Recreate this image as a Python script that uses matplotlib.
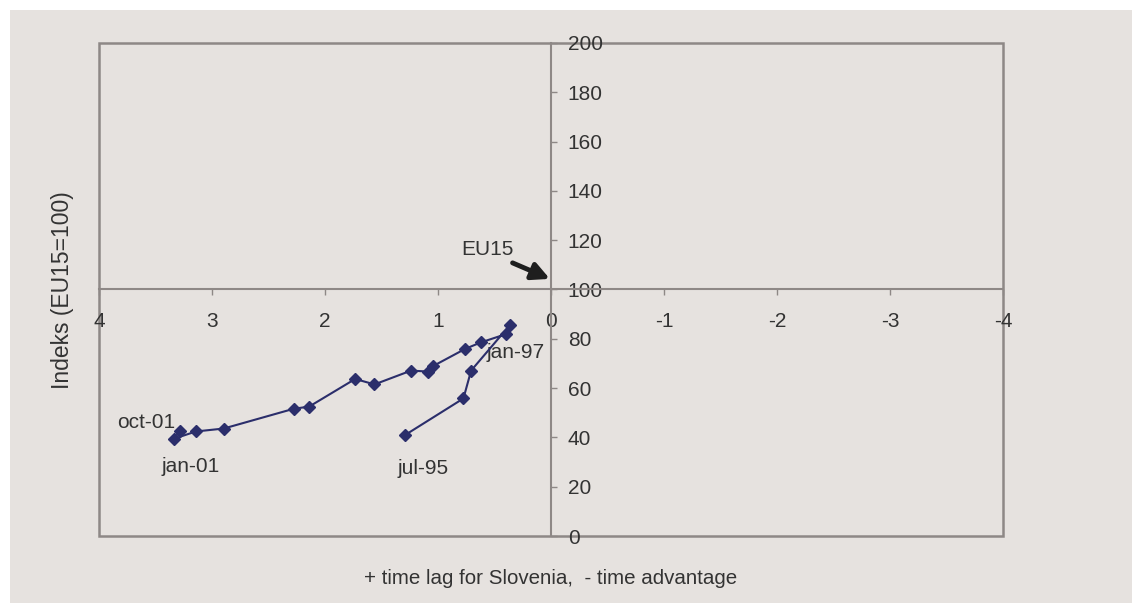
"""Slovenia vs EU15: index level against time lag / advantage."""

import matplotlib
matplotlib.use("Agg")
import matplotlib.pyplot as plt
from matplotlib.patches import Rectangle

BG = "#E6E2DF"
FRAME = "#8E8886"
TEXT = "#333333"
SERIES = "#2B2E6B"

# time lag in years (+ lag, - advantage) and index level (EU15 = 100)
lag_years = [1.29, 0.775, 0.707, 0.363, 0.398, 0.623, 0.760, 1.041, 1.085,
             1.238, 1.562, 1.733, 2.140, 2.278, 2.896, 3.143, 3.340, 3.280]
index_level = [41.0, 55.8, 67.1, 85.6, 81.9, 78.5, 75.9, 69.0, 66.7,
               67.1, 61.5, 63.7, 52.5, 51.6, 43.6, 42.4, 39.4, 42.6]

# period labels and where they sit
period_labels = ["jul-95", "jan-97", "jan-01", "oct-01"]
label_x = [1.136, 0.314, 3.19, 3.58]
label_y = [27.2, 74.6, 28.2, 46.0]

x_ticks = [4, 3, 2, 1, 0, -1, -2, -3, -4]
y_ticks = list(range(0, 201, 20))

plt.rcParams.update({
    "font.family": ["Liberation Sans", "DejaVu Sans"],
    "font.size": 15,
    "axes.unicode_minus": False,
    "text.color": TEXT,
})

fig = plt.figure(figsize=(11.32, 6.03), dpi=100)
fig.patch.set_facecolor("white")
fig.patches.append(Rectangle((10 / 1132, 0), 1, 1 - 10 / 603,
                             transform=fig.transFigure, facecolor=BG,
                             edgecolor="none", zorder=-10))

ax = fig.add_axes([99 / 1132, 1 - 536 / 603, 904 / 1132, 493 / 603])
ax.set_facecolor(BG)
ax.set_xlim(4, -4)
ax.set_ylim(0, 200)

# axes cross at (0, 100); outer frame drawn separately
ax.spines["top"].set_visible(False)
ax.spines["left"].set_visible(False)
ax.spines["bottom"].set_position(("data", 100))
ax.spines["right"].set_position(("data", 0))
for side in ("bottom", "right"):
    ax.spines[side].set_color(FRAME)
    ax.spines[side].set_linewidth(1.5)
ax.add_patch(Rectangle((0, 0), 1, 1, transform=ax.transAxes, fill=False,
                       edgecolor=FRAME, linewidth=1.8, clip_on=False))

ax.yaxis.tick_right()
ax.set_xticks(x_ticks)
ax.set_xticklabels([str(v) for v in x_ticks])
ax.set_yticks(y_ticks)
ax.tick_params(axis="x", direction="out", length=4, width=1, color=FRAME,
               pad=12, labelcolor=TEXT)
ax.tick_params(axis="y", direction="out", length=4, width=1, color=FRAME,
               pad=8, labelcolor=TEXT)

ax.plot(lag_years, index_level, color=SERIES, linewidth=1.5, marker="D",
        markersize=6.5, markerfacecolor=SERIES, markeredgecolor=SERIES,
        zorder=5)

for txt, lx, ly in zip(period_labels, label_x, label_y):
    ax.text(lx, ly, txt, ha="center", va="center", color=TEXT)

# EU15 reference level label with its pointer
ax.text(0.566, 116.4, "EU15", ha="center", va="center", color=TEXT)
ax.annotate("", xy=(0.01, 104.3), xytext=(0.34, 110.8),
            arrowprops=dict(arrowstyle="-|>", color="#1E1E1E", lw=3.5,
                            mutation_scale=26, shrinkA=0, shrinkB=0))

fig.text(62 / 1132, 1 - 290 / 603, "Indeks (EU15=100)", rotation=90,
         ha="center", va="center", color=TEXT, fontsize=16.5)
fig.text(551 / 1132, 1 - 578 / 603,
         "+ time lag for Slovenia,  - time advantage",
         ha="center", va="center", color=TEXT, fontsize=14.8)

fig.savefig("out.png", dpi=100, facecolor=fig.get_facecolor())
